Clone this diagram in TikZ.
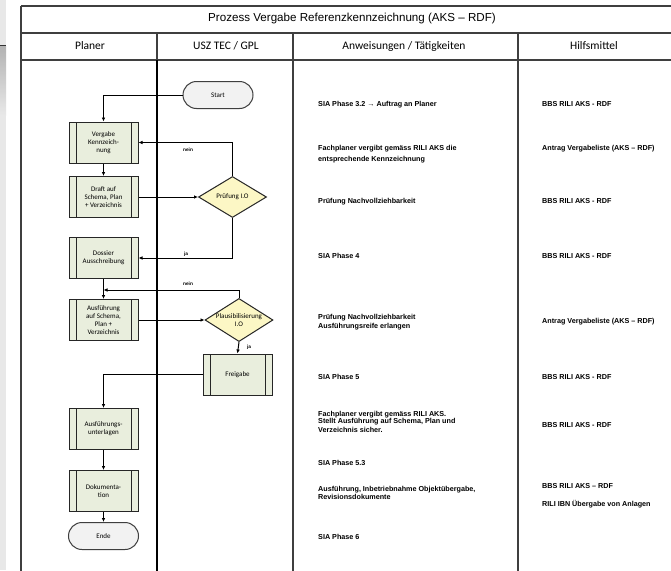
\documentclass[tikz,border=0pt]{standalone}
\usepackage{fontspec}
\setmainfont{Liberation Sans}
\newfontfamily\calib{Carlito}
\usetikzlibrary{shapes.geometric,arrows.meta}

\definecolor{gridline}{HTML}{3F3F3F}
\definecolor{procfill}{HTML}{E9EEDD}
\definecolor{decfill}{HTML}{FCF7C5}
\definecolor{termfill}{HTML}{F2F2F2}
\definecolor{outline}{HTML}{262626}

\tikzset{
  grid/.style={draw=gridline, line width=1.4pt},
  flowline/.style={draw=black, line width=1pt},
  arr/.style={flowline, -{Latex[length=4pt,width=3.6pt]}},
  proc/.style={draw=outline, fill=procfill, line width=1pt,
    minimum width=69pt, minimum height=41pt, inner sep=1pt, align=center,
    font=\calib\fontsize{7}{8.2}\selectfont,
    path picture={
      \draw[outline, line width=0.8pt]
        ([xshift=7pt]path picture bounding box.north west) --
        ([xshift=7pt]path picture bounding box.south west)
        ([xshift=-7pt]path picture bounding box.north east) --
        ([xshift=-7pt]path picture bounding box.south east);}},
  dec/.style={diamond, draw=outline, fill=decfill, line width=1pt,
    minimum width=68pt, minimum height=41pt, inner sep=-4pt, align=center,
    font=\calib\fontsize{7}{8.2}\selectfont},
  term/.style={rectangle, rounded corners=13.5pt, draw=gridline, fill=termfill,
    line width=1pt, minimum width=70pt, minimum height=27pt, inner sep=0pt,
    font=\calib\fontsize{7}{8.2}\selectfont},
  hdr/.style={font=\calib\fontsize{11.5}{13}\selectfont, inner sep=0pt},
  txt/.style={anchor=base west, inner sep=0pt,
    font=\bfseries\fontsize{7.2}{8}\selectfont},
  lbl/.style={inner sep=0pt, font=\bfseries\fontsize{4.8}{5}\selectfont},
}

\begin{document}
\begin{tikzpicture}[x=1pt,y=-1pt]
\useasboundingbox (0,0) rectangle (671,570);
\fill[white] (0,0) rectangle (671,570);

% window edge at the far left
\fill[gray!18] (0,0) rectangle (6,570);
\shade[top color=gray!60, bottom color=gray!18] (0,46) rectangle (6,115);
\draw[black!80, line width=0.8pt] (0,45.5) -- (6,45.5);

% table frame
\draw[grid] (21,6) -- (690,6);
\draw[grid] (21,33) -- (690,33);
\draw[grid] (21,60) -- (690,60);
\draw[grid] (21,6) -- (21,580);
\draw[grid] (157,33) -- (157,60);
\draw[flowline, line width=1.3pt] (157,60) -- (157,580);
\draw[grid] (293,33) -- (293,580);
\draw[grid] (518,33) -- (518,580);

% title and column headings
\node[inner sep=0pt, font=\fontsize{11.6}{13}\selectfont] (title) at (352,18.5)
  {Prozess Vergabe Referenzkennzeichnung (AKS – RDF)};
\node[hdr] (h1) at (90,46) {Planer};
\node[hdr] (h2) at (226,46) {USZ TEC / GPL};
\node[hdr] (h3) at (404,46) {Anweisungen / Tätigkeiten};
\node[hdr] (h4) at (594,46) {Hilfsmittel};

% flow chart
\node[term] (start) at (218,95) {Start};
\node[proc] (vergabe) at (103.5,142.5) {Vergabe\\Kennzeich-\\nung};
\node[proc] (draft) at (103.5,197) {Draft auf\\Schema, Plan\\+ Verzeichnis};
\node[dec] (pruef) at (232.5,197) {Prüfung I.O};
\node[proc] (dossier) at (103.5,258) {Dossier\\Ausschreibung};
\node[proc] (ausf) at (103.5,320) {Ausführung\\auf Schema,\\Plan +\\Verzeichnis};
\node[dec] (plaus) at (239,320) {Plausibilisierung\\I.O};
\node[proc] (freig) at (237.5,374.5) {Freigabe};
\node[proc] (unterl) at (103.5,429) {Ausführungs-\\unterlagen};
\node[proc] (doku) at (103.5,491) {Dokumenta-\\tion};
\node[term] (ende) at (103.5,536) {Ende};
\coordinate (jn) at (103.5,290);

\draw[arr] (start.west) -| (vergabe.north);
\draw[arr] (vergabe.south) -- (draft.north);
\draw[arr] (draft.east) -- (pruef.west);
\draw[arr] (pruef.north) |- (vergabe.east);
\draw[arr] (pruef.south) |- (dossier.east);
\draw[arr] (dossier.south) -- (ausf.north);
\draw[arr] (plaus.north) |- (jn);
\draw[arr] (ausf.east) -- (plaus.west);
\draw[arr] (plaus.south) -- (freig.north);
\draw[arr] (freig.west) -| (unterl.north);
\draw[arr] (unterl.south) -- (doku.north);
\draw[arr] (doku.south) -- (ende.north);

\node[lbl] (l1) at (188,150) {nein};
\node[lbl] (l2) at (186,254) {ja};
\node[lbl] (l3) at (188,284) {nein};
\node[lbl] (l4) at (249,347) {ja};

% instructions
\node[txt] (a1) at (318,106.5) {SIA Phase 3.2 → Auftrag an Planer};
\node[txt] (a2) at (318,150.5) {Fachplaner vergibt gemäss RILI AKS die};
\node[txt] (a3) at (318,161.5) {entsprechende Kennzeichnung};
\node[txt] (a4) at (318,203.5) {Prüfung Nachvollziehbarkeit};
\node[txt] (a5) at (318,258.5) {SIA Phase 4};
\node[txt] (a6) at (318,319.5) {Prüfung Nachvollziehbarkeit};
\node[txt] (a7) at (318,328) {Ausführungsreife erlangen};
\node[txt] (a8) at (318,379) {SIA Phase 5};
\node[txt] (a9) at (318,416) {Fachplaner vergibt gemäss RILI AKS.};
\node[txt] (a10) at (318,423.5) {Stellt Ausführung auf Schema, Plan und};
\node[txt] (a11) at (318,432.5) {Verzeichnis sicher.};
\node[txt] (a12) at (318,465.5) {SIA Phase 5.3};
\node[txt] (a13) at (318,491.5) {Ausführung, Inbetriebnahme Objektübergabe,};
\node[txt] (a14) at (318,499) {Revisionsdokumente};
\node[txt] (a15) at (318,539) {SIA Phase 6};

% aids
\node[txt] (b1) at (542,106.5) {BBS RILI AKS - RDF};
\node[txt] (b2) at (542,150.5) {Antrag Vergabeliste (AKS – RDF)};
\node[txt] (b3) at (542,203.5) {BBS RILI AKS - RDF};
\node[txt] (b4) at (542,258.5) {BBS RILI AKS - RDF};
\node[txt] (b5) at (542,323) {Antrag Vergabeliste (AKS – RDF)};
\node[txt] (b6) at (542,379) {BBS RILI AKS - RDF};
\node[txt] (b7) at (542,427.5) {BBS RILI AKS - RDF};
\node[txt] (b8) at (542,488.5) {BBS RILI AKS – RDF};
\node[txt] (b9) at (542,506.5) {RILI IBN Übergabe von Anlagen};
\end{tikzpicture}
\end{document}
